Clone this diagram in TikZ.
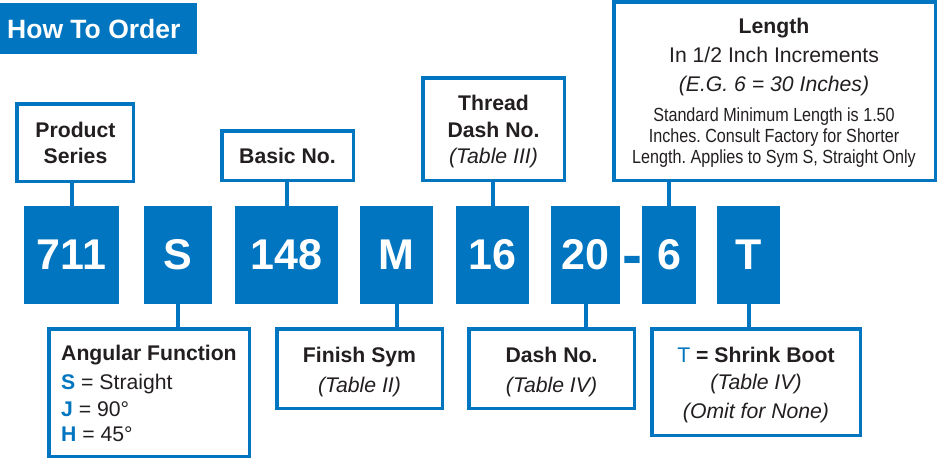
\documentclass[tikz,border=0pt]{standalone}
\usepackage{fontspec}
\setmainfont{Liberation Sans}
\newfontfamily\narrowfont[FakeStretch=0.85]{Liberation Sans}
\definecolor{cblue}{HTML}{0175BF}
\definecolor{ink}{HTML}{231F20}
\frenchspacing
\begin{document}
\begin{tikzpicture}[x=1pt,y=-1pt,
  codebox/.style={fill=cblue, text=white, font=\fontsize{43}{43}\selectfont\bfseries, inner sep=0pt, minimum height=98pt},
  outbox/.style={draw=cblue, line width=3.5pt, fill=white, inner sep=0pt},
  conn/.style={draw=cblue, line width=4pt},
  lab/.style={text=ink, font=\fontsize{21.2}{24}\selectfont\bfseries, anchor=base, inner sep=0pt},
  reg/.style={text=ink, font=\fontsize{21.2}{24}\selectfont, anchor=base, inner sep=0pt},
  itl/.style={text=ink, font=\fontsize{21.2}{24}\selectfont\itshape, anchor=base, inner sep=0pt},
  sml/.style={text=ink, font=\fontsize{19}{22}\narrowfont, anchor=base, inner sep=0pt},
  titletext/.style={text=white, font=\fontsize{26.5}{30}\selectfont\bfseries, anchor=base west, inner sep=0pt}
]
\useasboundingbox (0,0) rectangle (943,461);

% title
\node[fill=cblue, minimum width=197pt, minimum height=51pt, anchor=north west, inner sep=0pt] (title) at (0,3) {};
\node[titletext] (titlelabel) at (7,38) {How To Order};

% code boxes
\node[codebox, minimum width=95pt]  (c711) at (71.5,255) {711};
\node[codebox, minimum width=68pt]  (cS)   at (178,255) {S};
\node[codebox, minimum width=103pt] (c148) at (286.5,255) {148};
\node[codebox, minimum width=73pt]  (cM)   at (396.5,255) {M};
\node[codebox, minimum width=73pt]  (c16)  at (492.5,255) {16};
\node[codebox, minimum width=69pt]  (c20)  at (585.5,255) {20};
\node[text=cblue, font=\fontsize{60}{60}\selectfont\bfseries, anchor=base, inner sep=0pt] (dash) at (632,275) {-};
\node[codebox, minimum width=54pt]  (c6)   at (669,255) {6};
\node[codebox, minimum width=63pt]  (cT)   at (748.5,255) {T};

% top boxes
\node[outbox, minimum width=116.5pt, minimum height=77.5pt] (prod) at (75,142.5) {};
\node[outbox, minimum width=131.5pt, minimum height=49.5pt] (basic) at (287.5,155.5) {};
\node[outbox, minimum width=141.5pt, minimum height=102.5pt] (thread) at (493.5,129) {};
\node[outbox, minimum width=321.5pt, minimum height=178.5pt] (len) at (774.5,91) {};

% bottom boxes
\node[outbox, minimum width=200.5pt, minimum height=127.5pt] (ang) at (149,392.5) {};
\node[outbox, minimum width=165.5pt, minimum height=79.5pt] (fin) at (359.5,368.5) {};
\node[outbox, minimum width=165.5pt, minimum height=79.5pt] (dno) at (551.5,368.5) {};
\node[outbox, minimum width=208.5pt, minimum height=106.5pt] (boot) at (756,382) {};

% connectors
\draw[conn] (c711.north) -- (c711.north |- prod.south);
\draw[conn] (c148.north) -- (c148.north |- basic.south);
\draw[conn] (c16.north) -- (c16.north |- thread.south);
\draw[conn] (c6.north) -- (c6.north |- len.south);
\draw[conn] (cS.south) -- (cS.south |- ang.north);
\draw[conn] (cM.south) -- (cM.south |- fin.north);
\draw[conn] (c20.south) -- (c20.south |- dno.north);
\draw[conn] (cT.south) -- (cT.south |- boot.north);

% top texts
\node[lab] (ps1) at (75.5,137) {Product};
\node[lab] (ps2) at (75.5,163) {Series};
\node[lab] (bn1) at (287.5,163) {Basic No.};
\node[lab] (td1) at (493.5,110) {Thread};
\node[lab] (td2) at (493.5,137) {Dash No.};
\node[itl] (td3) at (493.5,163) {(Table III)};
\node[lab] (le1) at (774,33) {Length};
\node[reg] (le2) at (774,62) {In 1/2 Inch Increments};
\node[itl] (le3) at (774,91) {(E.G. 6 = 30 Inches)};
\node[sml] (le4) at (774,121) {Standard Minimum Length is 1.50};
\node[sml] (le5) at (774,142) {Inches. Consult Factory for Shorter};
\node[sml] (le6) at (774,163) {Length. Applies to Sym S, Straight Only};

% bottom texts
\node[lab, anchor=base west] (af1) at (61,360) {Angular Function};
\node[reg, anchor=base west] (af2) at (61,389) {\textcolor{cblue}{\bfseries S} = Straight};
\node[reg, anchor=base west] (af3) at (61,416) {\textcolor{cblue}{\bfseries J} = 90°};
\node[reg, anchor=base west] (af4) at (61,441) {\textcolor{cblue}{\bfseries H} = 45°};
\node[lab] (fs1) at (359.5,362) {Finish Sym};
\node[itl] (fs2) at (359.5,392) {(Table II)};
\node[lab] (dn1) at (551.5,362) {Dash No.};
\node[itl] (dn2) at (551.5,392) {(Table IV)};
\node[lab] (sb1) at (756,362) {\textcolor{cblue}{\mdseries T} = Shrink Boot};
\node[itl] (sb2) at (756,389) {(Table IV)};
\node[itl] (sb3) at (756,418) {(Omit for None)};
\end{tikzpicture}
\end{document}
